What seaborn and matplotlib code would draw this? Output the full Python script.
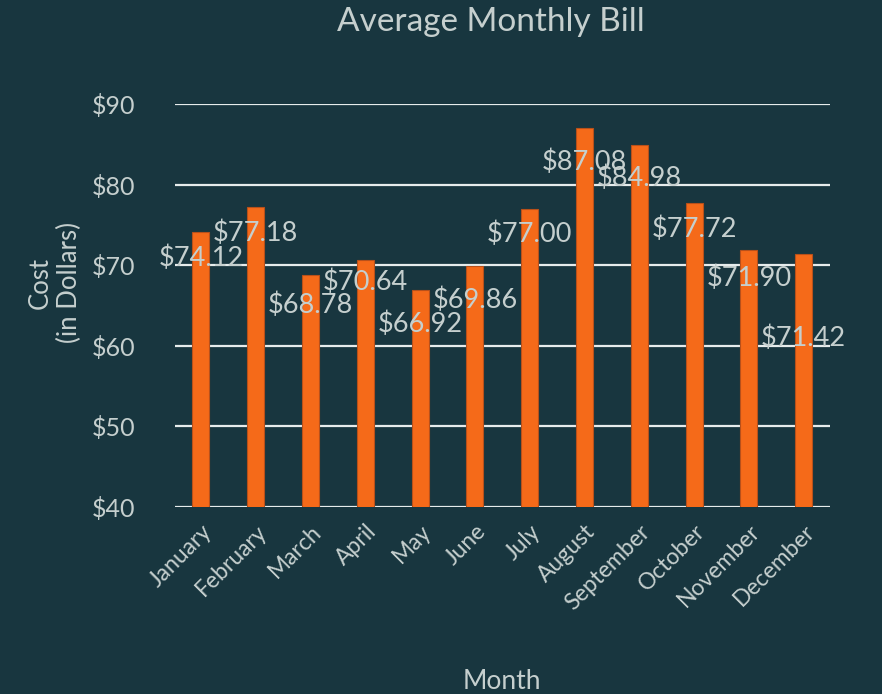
import matplotlib
matplotlib.use('Agg')
import matplotlib.pyplot as plt
import seaborn as sns
import pandas as pd

# 資料
months = ['January', 'February', 'March', 'April', 'May', 'June',
          'July', 'August', 'September', 'October', 'November', 'December']
avg_bill = [74.12, 77.18, 68.78, 70.64, 66.92, 69.86,
            77.00, 87.08, 84.98, 77.72, 71.90, 71.42]
# 標籤相對於柱頂的位移 (美元)
label_shift = [-3.2, -3.2, -3.7, -2.7, -4.2, -4.2,
               -3.2, -4.3, -4.2, -3.3, -3.5, -10.5]
y_ticks = [40, 50, 60, 70, 80, 90]

bg = '#18363f'
fg = '#c5cfce'
bar_color = '#f56a19'

df = pd.DataFrame({'Month': months, 'Cost': avg_bill})

sns.set_style('dark')
plt.rcParams['font.family'] = ['Lato', 'DejaVu Sans']

fig = plt.figure(figsize=(8.82, 6.94), dpi=100, facecolor=bg)
ax = fig.add_axes([0.198, 0.2695, 0.743, 0.5805])
ax.set_facecolor(bg)

sns.barplot(data=df, x='Month', y='Cost', color=bar_color, width=0.31,
            edgecolor='#b8501a', linewidth=0.8, saturation=1, ax=ax, zorder=3)

ax.set_ylim(40, 90)
ax.set_xlim(-0.48, 11.48)
ax.set_yticks(y_ticks)
ax.set_yticklabels([f'${v}' for v in y_ticks])
ax.grid(axis='y', color='#e6ecec', linewidth=1.6, zorder=0)
ax.grid(axis='x', visible=False)
for s in ax.spines.values():
    s.set_visible(False)

ax.tick_params(axis='y', length=0, pad=28, labelsize=18, labelcolor=fg)
ax.tick_params(axis='x', length=0, pad=10, labelsize=16.5, labelcolor=fg)
plt.setp(ax.get_xticklabels(), rotation=45, ha='right', rotation_mode='anchor')

for i, (v, d) in enumerate(zip(avg_bill, label_shift)):
    ax.text(i, v + d, f'${v:.2f}', ha='center', va='center',
            fontsize=19.5, color=fg, zorder=4)

ax.set_xlabel('Month', color=fg, fontsize=19, labelpad=40)
ax.set_ylabel('Cost\n(in Dollars)', color=fg, fontsize=18.5, ha='center', va='center')
ax.yaxis.set_label_coords(-0.183, 0.556)
fig.text(0.557, 0.968, 'Average Monthly Bill', ha='center', va='center',
         color=fg, fontsize=24)

fig.savefig('out.png', dpi=100, facecolor=bg)
